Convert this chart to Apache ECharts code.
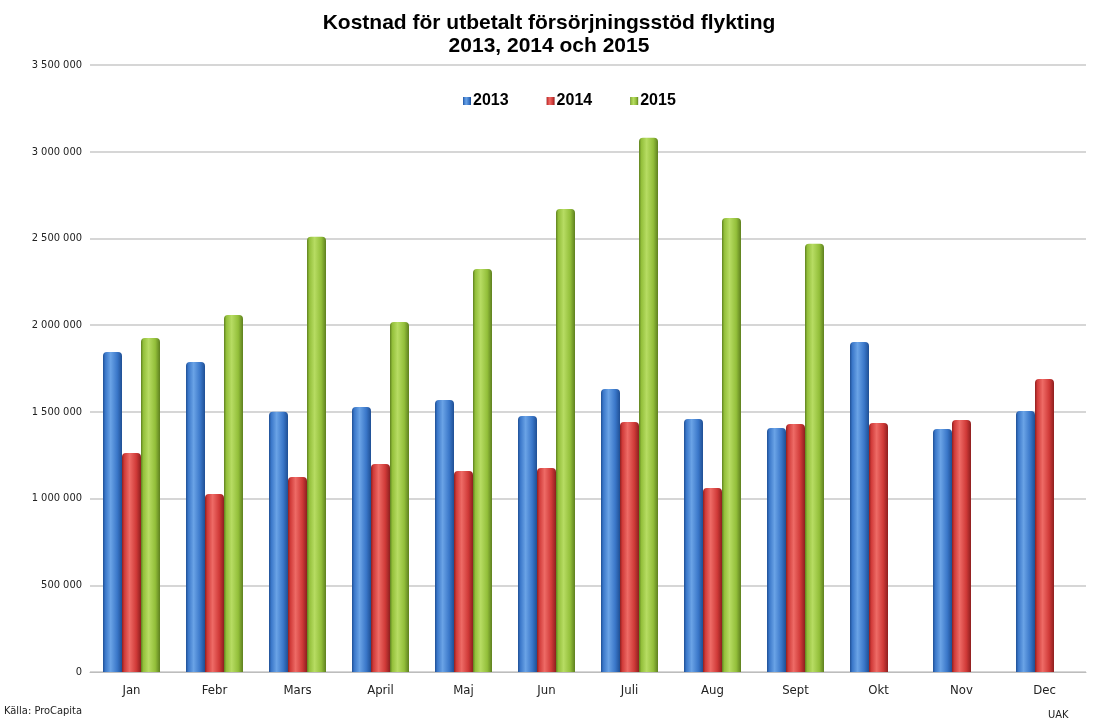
<!DOCTYPE html>
<html>
<head>
<meta charset="utf-8">
<script src="https://cdn.jsdelivr.net/npm/echarts@6/dist/echarts.min.js"></script>
<style>
  html, body { margin: 0; padding: 0; background: #fff; }
  #main { width: 1098px; height: 722px; }
</style>
</head>
<body>
<div id="main"></div>
<script>
var months = ['Jan', 'Febr', 'Mars', 'April', 'Maj', 'Jun', 'Juli', 'Aug', 'Sept', 'Okt', 'Nov', 'Dec'];
var years = ['2013', '2014', '2015'];
var cost2013 = [1845000, 1788000, 1500000, 1528000, 1569000, 1476000, 1632000, 1459000, 1407000, 1903000, 1401000, 1505000];
var cost2014 = [1263000, 1026000, 1125000, 1200000, 1159000, 1176000, 1442000, 1061000, 1430000, 1436000, 1453000, 1690000];
var cost2015 = [1926000, 2059000, 2510000, 2018000, 2324000, 2670000, 3080000, 2618000, 2470000, null, null, null];

var chartDom = document.getElementById('main');
var myChart = echarts.init(chartDom, null, { renderer: 'canvas' });

// light/dark bands across the bar to fake the cylinder look
function cylinder(dark, mid, light) {
    return new echarts.graphic.LinearGradient(0, 0, 1, 0, [
        { offset: 0, color: dark },
        { offset: 0.12, color: mid },
        { offset: 0.4, color: light },
        { offset: 0.75, color: mid },
        { offset: 1, color: dark }
    ]);
}

function fmt(v) {
    return String(v).replace(/\B(?=(\d{3})+(?!\d))/g, ' ');
}

var option = {
    backgroundColor: '#fff',
    title: {
        text: 'Kostnad för utbetalt försörjningsstöd flykting\n2013, 2014 och 2015',
        left: 'center',
        top: 7,
        textStyle: {
            fontFamily: 'Liberation Sans, Arial, sans-serif',
            fontSize: 21,
            fontWeight: 'bold',
            color: '#000',
            lineHeight: 23
        }
    },
    legend: {
        data: years,
        top: 88,
        left: 458,
        itemWidth: 8,
        itemHeight: 8,
        itemGap: 38,
        icon: 'rect',
        textStyle: {
            fontFamily: 'Liberation Sans, Arial, sans-serif',
            fontSize: 16,
            fontWeight: 'bold',
            color: '#000',
            padding: [0, 0, 0, -3]
        }
    },
    grid: { left: 90, right: 12, top: 65, bottom: 50 },
    xAxis: {
        type: 'category',
        data: months,
        axisTick: { show: false },
        axisLine: { lineStyle: { color: '#bdbdbd', width: 1 } },
        axisLabel: {
            margin: 12,
            fontFamily: 'DejaVu Sans Condensed, Liberation Sans, sans-serif',
            fontSize: 13,
            color: '#222'
        }
    },
    yAxis: {
        type: 'value',
        min: 0,
        max: 3500000,
        interval: 500000,
        axisLine: { show: false },
        axisTick: { show: false },
        splitLine: { lineStyle: { color: '#c8c8c8', width: 1.5 } },
        axisLabel: {
            margin: 8,
            formatter: fmt,
            fontFamily: 'DejaVu Sans Condensed, Liberation Sans, sans-serif',
            fontSize: 11,
            color: '#222'
        }
    },
    series: [
        {
            name: '2013',
            type: 'bar',
            data: cost2013,
            barWidth: 19,
            barGap: '0%',
            itemStyle: { color: cylinder('#1f4f94', '#3a77c9', '#6aa3e6'), borderRadius: [4, 4, 0, 0] }
        },
        {
            name: '2014',
            type: 'bar',
            data: cost2014,
            barWidth: 19,
            barGap: '0%',
            itemStyle: { color: cylinder('#8e1f1f', '#d03a38', '#ee6b66'), borderRadius: [4, 4, 0, 0] }
        },
        {
            name: '2015',
            type: 'bar',
            data: cost2015,
            barWidth: 19,
            barGap: '0%',
            itemStyle: { color: cylinder('#5e801f', '#93bf3a', '#b7dc63'), borderRadius: [4, 4, 0, 0] }
        }
    ],
    graphic: [
        {
            type: 'text',
            left: 4,
            top: 706,
            style: {
                text: 'Källa: ProCapita',
                fontFamily: 'DejaVu Sans Condensed, Liberation Sans, sans-serif',
                fontSize: 11,
                fill: '#222'
            }
        },
        {
            type: 'text',
            left: 1048,
            top: 710,
            style: {
                text: 'UAK',
                fontFamily: 'DejaVu Sans Condensed, Liberation Sans, sans-serif',
                fontSize: 11,
                fill: '#222'
            }
        }
    ]
};
option && myChart.setOption(option);
</script>
</body>
</html>
